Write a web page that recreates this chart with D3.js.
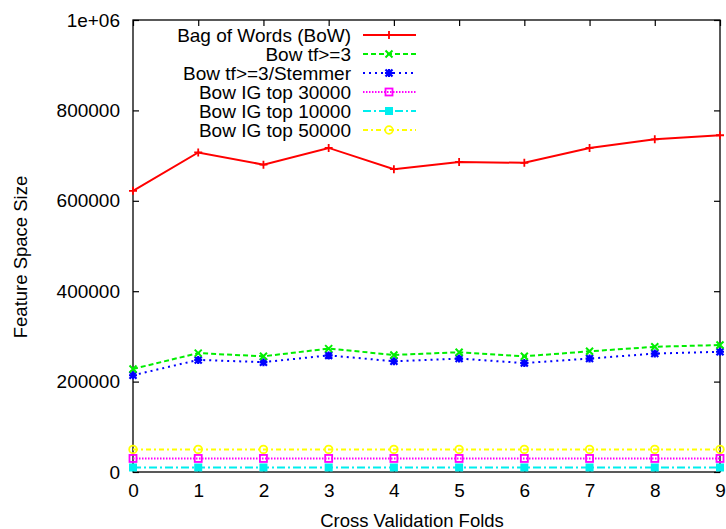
<!DOCTYPE html>
<html>
<head>
<meta charset="utf-8">
<script src="https://cdn.jsdelivr.net/npm/d3@7"></script>
<style>
  html, body { margin: 0; padding: 0; background: #fff; }
  svg text { font-family: "Liberation Sans", Arial, Helvetica, sans-serif; fill: #000; }
</style>
</head>
<body>
<svg id="chart" width="726" height="529"></svg>
<script>
// Cross-validation folds on the x axis
const folds = [0, 1, 2, 3, 4, 5, 6, 7, 8, 9];

// Feature space size per fold for each representation
const bowAll      = [622000, 707000, 680000, 717000, 670000, 686000, 684000, 717000, 736000, 745000];
const bowTf3      = [228000, 263000, 256000, 273000, 259000, 265000, 256000, 267000, 277000, 281000];
const bowTf3Stem  = [214000, 248000, 243000, 258000, 245000, 251000, 241000, 251000, 262000, 266000];
const bowIG30000  = [30000, 30000, 30000, 30000, 30000, 30000, 30000, 30000, 30000, 30000];
const bowIG10000  = [10000, 10000, 10000, 10000, 10000, 10000, 10000, 10000, 10000, 10000];
const bowIG50000  = [50000, 50000, 50000, 50000, 50000, 50000, 50000, 50000, 50000, 50000];

const seriesNames = [
  "Bag of Words (BoW)",
  "Bow tf>=3",
  "Bow tf>=3/Stemmer",
  "Bow IG top 30000",
  "Bow IG top 10000",
  "Bow IG top 50000"
];

const yTicks = [0, 200000, 400000, 600000, 800000, 1000000];
const yTickLabels = ["0", "200000", "400000", "600000", "800000", "1e+06"];

const xTitle = "Cross Validation Folds";
const yTitle = "Feature Space Size";

// Visual style per series: colour, dash pattern, marker kind
const styles = [
  { color: "#ff0000", dash: null,        marker: "plus" },
  { color: "#00ee00", dash: "5,3",       marker: "cross" },
  { color: "#0000ff", dash: "2,4",       marker: "star" },
  { color: "#ff00ff", dash: "1.5,1.5",   marker: "openSquare" },
  { color: "#00eeee", dash: "8,3,2,3",   marker: "filledSquare" },
  { color: "#ffff00", dash: "5,3,2,3",   marker: "openCircle" }
];

const seriesValues = [bowAll, bowTf3, bowTf3Stem, bowIG30000, bowIG10000, bowIG50000];

const svg = d3.select("#chart");
const fontSize = 19;

const x = d3.scaleLinear().domain([0, 9]).range([133, 720]);
const y = d3.scaleLinear().domain([0, 1000000]).range([472, 20]);

// Frame around the plot area
svg.append("rect")
  .attr("x", x(0)).attr("y", y(1000000))
  .attr("width", x(9) - x(0)).attr("height", y(0) - y(1000000))
  .attr("fill", "none").attr("stroke", "#000").attr("stroke-width", 1.3);

const tickLen = 6;

// Y axis: inward ticks on both sides, labels on the left
const yAxisLeft = d3.axisLeft(y)
  .tickValues(yTicks)
  .tickSize(-tickLen)
  .tickPadding(13)
  .tickFormat((d, i) => yTickLabels[i]);
const gy = svg.append("g").attr("transform", `translate(${x(0)},0)`).call(yAxisLeft);
gy.select(".domain").remove();
gy.selectAll("text").style("font-size", fontSize + "px").attr("fill", "#000");
gy.selectAll("line").attr("stroke", "#000").attr("stroke-width", 1.2);

const yAxisRight = d3.axisRight(y).tickValues(yTicks).tickSize(-tickLen).tickFormat("");
const gyr = svg.append("g").attr("transform", `translate(${x(9)},0)`).call(yAxisRight);
gyr.select(".domain").remove();
gyr.selectAll("line").attr("stroke", "#000").attr("stroke-width", 1.2);

// X axis: inward ticks on top and bottom, labels below
const xAxisBottom = d3.axisBottom(x)
  .tickValues(folds)
  .tickSize(-tickLen)
  .tickPadding(12)
  .tickFormat(d3.format("d"));
const gx = svg.append("g").attr("transform", `translate(0,${y(0)})`).call(xAxisBottom);
gx.select(".domain").remove();
gx.selectAll("text").style("font-size", fontSize + "px").attr("fill", "#000");
gx.selectAll("line").attr("stroke", "#000").attr("stroke-width", 1.2);

const xAxisTop = d3.axisTop(x).tickValues(folds).tickSize(-tickLen).tickFormat("");
const gxt = svg.append("g").attr("transform", `translate(0,${y(1000000)})`).call(xAxisTop);
gxt.select(".domain").remove();
gxt.selectAll("line").attr("stroke", "#000").attr("stroke-width", 1.2);

// Axis titles
svg.append("text")
  .attr("x", 412).attr("y", 520)
  .attr("text-anchor", "middle").attr("dominant-baseline", "central")
  .style("font-size", "18.5px")
  .text(xTitle);

svg.append("text")
  .attr("transform", "translate(20,257) rotate(-90)")
  .attr("text-anchor", "middle").attr("dominant-baseline", "central")
  .style("font-size", "18.5px")
  .text(yTitle);

// Marker drawing helper
function drawMarker(g, kind, cx, cy, color) {
  const s = 4;
  if (kind === "plus") {
    g.append("path").attr("d", `M${cx - s},${cy}H${cx + s}M${cx},${cy - s}V${cy + s}`)
      .attr("stroke", color).attr("stroke-width", 1.8).attr("fill", "none");
  } else if (kind === "cross") {
    const t = 3.5;
    g.append("path").attr("d", `M${cx - t},${cy - t}L${cx + t},${cy + t}M${cx - t},${cy + t}L${cx + t},${cy - t}`)
      .attr("stroke", color).attr("stroke-width", 2).attr("fill", "none");
  } else if (kind === "star") {
    const t = 3.5;
    g.append("path").attr("d",
      `M${cx - t},${cy - t}L${cx + t},${cy + t}M${cx - t},${cy + t}L${cx + t},${cy - t}` +
      `M${cx - s},${cy}H${cx + s}M${cx},${cy - s}V${cy + s}`)
      .attr("stroke", color).attr("stroke-width", 2.2).attr("fill", "none");
  } else if (kind === "openSquare") {
    g.append("rect").attr("x", cx - 3.5).attr("y", cy - 3.5).attr("width", 7).attr("height", 7)
      .attr("stroke", color).attr("stroke-width", 1.8).attr("fill", "none");
  } else if (kind === "filledSquare") {
    g.append("rect").attr("x", cx - 4).attr("y", cy - 4).attr("width", 8).attr("height", 8)
      .attr("fill", color);
  } else if (kind === "openCircle") {
    g.append("circle").attr("cx", cx).attr("cy", cy).attr("r", 3.8)
      .attr("stroke", color).attr("stroke-width", 1.8).attr("fill", "none");
  }
}

// Data lines and markers
const line = d3.line().x((d, i) => x(folds[i])).y(d => y(d));
const plot = svg.append("g");
// Draw the bottom-most series first so the main series stay on top
const order = [5, 3, 4, 2, 1, 0];
order.forEach(k => {
  const st = styles[k];
  const g = plot.append("g");
  g.append("path")
    .datum(seriesValues[k])
    .attr("d", line)
    .attr("fill", "none")
    .attr("stroke", st.color)
    .attr("stroke-width", 2)
    .attr("stroke-dasharray", st.dash);
  seriesValues[k].forEach((v, i) => drawMarker(g, st.marker, x(folds[i]), y(v), st.color));
});

// Legend
const legend = svg.append("g");
seriesNames.forEach((name, i) => {
  const st = styles[i];
  const cy = 35 + i * 19;
  legend.append("text")
    .attr("x", 351).attr("y", cy)
    .attr("text-anchor", "end").attr("dominant-baseline", "central")
    .style("font-size", fontSize + "px")
    .text(name);
  legend.append("line")
    .attr("x1", 363).attr("x2", 416).attr("y1", cy).attr("y2", cy)
    .attr("stroke", st.color).attr("stroke-width", 2)
    .attr("stroke-dasharray", st.dash);
  drawMarker(legend, st.marker, 389, cy, st.color);
});
</script>
</body>
</html>
